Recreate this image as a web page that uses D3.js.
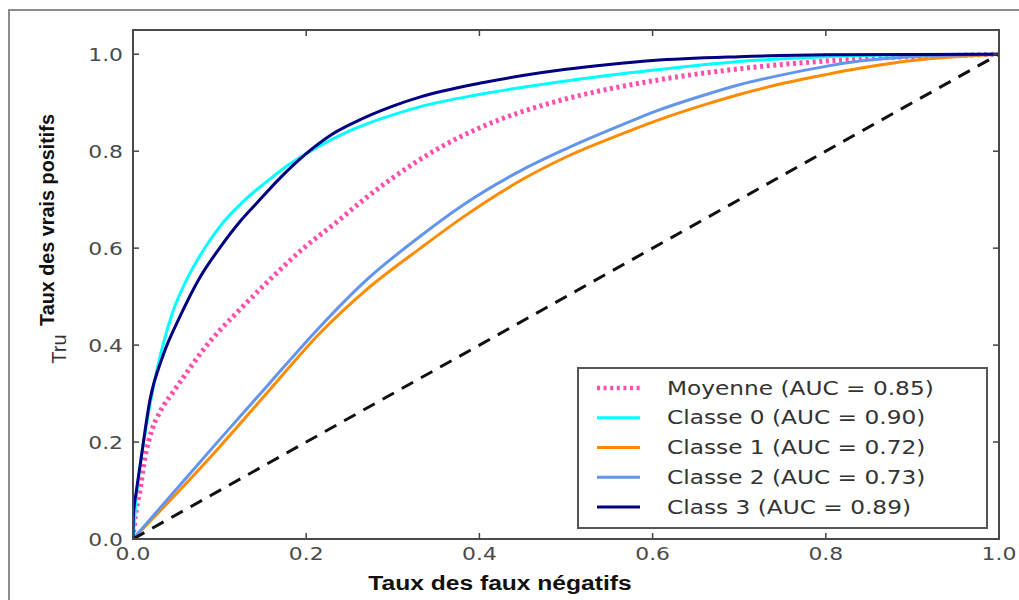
<!DOCTYPE html>
<html>
<head>
<meta charset="utf-8">
<script src="https://cdn.jsdelivr.net/npm/d3@7"></script>
<style>
  body { margin: 0; background: #fff; }
  svg { display: block; }
</style>
</head>
<body>
<svg id="roc-svg"></svg>
<script>
// ROC curves (fpr -> tpr)
const meanFpr = [0, 0.003, 0.008, 0.014, 0.022, 0.032, 0.045, 0.06, 0.081, 0.1, 0.12, 0.158, 0.197, 0.236, 0.27, 0.3, 0.35, 0.4, 0.45, 0.5, 0.6, 0.7, 0.8, 0.9, 1.0];
const meanTpr = [0, 0.05, 0.10, 0.17, 0.225, 0.265, 0.30, 0.338, 0.39, 0.43, 0.467, 0.535, 0.60, 0.655, 0.705, 0.745, 0.803, 0.848, 0.882, 0.908, 0.945, 0.97, 0.986, 0.995, 1.0];

const class0Fpr = [0, 0.004, 0.0139, 0.0235, 0.035, 0.0466, 0.062, 0.081, 0.1, 0.129, 0.16, 0.178, 0.2, 0.254, 0.3, 0.332, 0.4, 0.5, 0.6, 0.7, 0.8, 0.9, 1.0];
const class0Tpr = [0, 0.09, 0.218, 0.314, 0.403, 0.472, 0.535, 0.595, 0.644, 0.699, 0.745, 0.77, 0.795, 0.845, 0.875, 0.892, 0.917, 0.945, 0.967, 0.985, 0.995, 0.999, 1.0];

const class1Fpr = [0, 0.043, 0.1, 0.158, 0.216, 0.27, 0.332, 0.382, 0.45, 0.5, 0.575, 0.6, 0.662, 0.7, 0.751, 0.8, 0.839, 0.9, 1.0];
const class1Tpr = [0, 0.08, 0.19, 0.308, 0.425, 0.515, 0.60, 0.665, 0.742, 0.788, 0.843, 0.86, 0.897, 0.917, 0.94, 0.958, 0.971, 0.987, 1.0];

const class2Fpr = [0, 0.043, 0.1, 0.158, 0.216, 0.27, 0.332, 0.382, 0.45, 0.5, 0.575, 0.6, 0.662, 0.7, 0.751, 0.8, 0.839, 0.9, 1.0];
const class2Tpr = [0, 0.088, 0.205, 0.322, 0.438, 0.535, 0.625, 0.69, 0.762, 0.805, 0.862, 0.88, 0.917, 0.937, 0.958, 0.975, 0.986, 0.995, 1.0];

const class3Fpr = [0, 0.0004, 0.004, 0.008, 0.0196, 0.035, 0.054, 0.0774, 0.1, 0.1236, 0.143, 0.17, 0.2, 0.23, 0.254, 0.3, 0.332, 0.4, 0.45, 0.5, 0.55, 0.6, 0.7, 0.8, 1.0];
const class3Tpr = [0, 0.046, 0.10, 0.149, 0.287, 0.38, 0.458, 0.54, 0.60, 0.655, 0.693, 0.745, 0.795, 0.835, 0.858, 0.893, 0.912, 0.94, 0.956, 0.969, 0.979, 0.987, 0.995, 0.999, 1.0];

const chanceLine = [0, 1];

const seriesNames = ['Moyenne', 'Classe 0', 'Classe 1', 'Classe 2', 'Class 3'];
const seriesAuc = ['0.85', '0.90', '0.72', '0.73', '0.89'];

const xTicks = [0, 0.2, 0.4, 0.6, 0.8, 1.0];
const yTicks = [0, 0.2, 0.4, 0.6, 0.8, 1.0];

const xLabel = 'Taux des faux négatifs';
const yLabel = 'Taux des vrais positifs';
const yLabelExtra = 'Tru';

// ---------------- layout ----------------
const svgWidth = 1019, svgHeight = 600;
const plot = {left: 133, right: 999, top: 30, bottom: 539};
const stretch = 1.25; // the picture is wider than its fonts

const svg = d3.select('#roc-svg')
  .attr('width', svgWidth)
  .attr('height', svgHeight);

// outer frame of the figure
svg.append('path')
  .attr('d', `M9,${svgHeight + 5} L9,10 L${svgWidth + 5},10`)
  .attr('fill', 'none')
  .attr('stroke', '#8c8c8c')
  .attr('stroke-width', 2);

const xScale = d3.scaleLinear().domain([0, 1]).range([plot.left, plot.right]);
const yScale = d3.scaleLinear().domain([0, 1.05]).range([plot.bottom, plot.top]);

const series = [
  {fpr: meanFpr, tpr: meanTpr, color: '#ff4fae', width: 5, dash: '3,3.6'},
  {fpr: class0Fpr, tpr: class0Tpr, color: '#00ffff', width: 3, dash: null},
  {fpr: class1Fpr, tpr: class1Tpr, color: '#ff8c00', width: 3, dash: null},
  {fpr: class2Fpr, tpr: class2Tpr, color: '#6495ed', width: 3, dash: null},
  {fpr: class3Fpr, tpr: class3Tpr, color: '#000080', width: 3, dash: null}
];

const line = d3.line()
  .x(d => xScale(d[0]))
  .y(d => yScale(d[1]))
  .curve(d3.curveMonotoneX);

const chart = svg.append('g');

chart.append('defs').append('clipPath').attr('id', 'plot-clip')
  .append('rect')
  .attr('x', plot.left).attr('y', plot.top)
  .attr('width', plot.right - plot.left).attr('height', plot.bottom - plot.top);

const lines = chart.append('g').attr('clip-path', 'url(#plot-clip)');

series.forEach(s => {
  lines.append('path')
    .datum(s.fpr.map((f, i) => [f, s.tpr[i]]))
    .attr('d', line)
    .attr('fill', 'none')
    .attr('stroke', s.color)
    .attr('stroke-width', s.width)
    .attr('stroke-dasharray', s.dash)
    .attr('stroke-linejoin', 'round');
});

// chance diagonal
lines.append('path')
  .datum(chanceLine.map(v => [v, v]))
  .attr('d', d3.line().x(d => xScale(d[0])).y(d => yScale(d[1])))
  .attr('fill', 'none')
  .attr('stroke', '#111')
  .attr('stroke-width', 3)
  .attr('stroke-dasharray', '13,9');

/*********** axes: inward ticks on all four sides ***********/
const tickLen = 6;
const tickColor = '#444';
const axes = svg.append('g')
  .attr('stroke', tickColor)
  .attr('stroke-width', 1.5);

xTicks.forEach(t => {
  axes.append('line')
    .attr('x1', xScale(t)).attr('x2', xScale(t))
    .attr('y1', plot.bottom).attr('y2', plot.bottom - tickLen);
  axes.append('line')
    .attr('x1', xScale(t)).attr('x2', xScale(t))
    .attr('y1', plot.top).attr('y2', plot.top + tickLen);
});
yTicks.forEach(t => {
  axes.append('line')
    .attr('x1', plot.left).attr('x2', plot.left + tickLen)
    .attr('y1', yScale(t)).attr('y2', yScale(t));
  axes.append('line')
    .attr('x1', plot.right).attr('x2', plot.right - tickLen)
    .attr('y1', yScale(t)).attr('y2', yScale(t));
});

svg.append('rect')
  .attr('x', plot.left).attr('y', plot.top)
  .attr('width', plot.right - plot.left).attr('height', plot.bottom - plot.top)
  .attr('fill', 'none')
  .attr('stroke', '#4a4a4a')
  .attr('stroke-width', 2);

// tick labels
const fmt = d3.format('.1f');
const tickFont = "'DejaVu Sans', sans-serif";

xTicks.forEach(t => {
  svg.append('text')
    .attr('transform', `translate(${xScale(t)},${plot.bottom + 21}) scale(${stretch},1)`)
    .attr('text-anchor', 'middle')
    .style('font-family', tickFont)
    .style('font-size', '17.5px')
    .style('fill', '#4a4a4a')
    .text(fmt(t));
});
yTicks.forEach(t => {
  svg.append('text')
    .attr('transform', `translate(${plot.left - 10},${yScale(t) + 6.5}) scale(${stretch},1)`)
    .attr('text-anchor', 'end')
    .style('font-family', tickFont)
    .style('font-size', '17.5px')
    .style('fill', '#4a4a4a')
    .text(fmt(t));
});

/*********** axis titles ***********/
svg.append('text')
  .attr('transform', `translate(${(plot.left + plot.right) / 2 - 66},590) scale(1.23,1)`)
  .attr('text-anchor', 'middle')
  .style('font-family', "'Liberation Sans', Arial, sans-serif")
  .style('font-weight', 'bold')
  .style('font-size', '20px')
  .style('fill', '#111')
  .text(xLabel);

svg.append('text')
  .attr('transform', 'translate(54,220) rotate(-90)')
  .attr('text-anchor', 'middle')
  .style('font-family', "'Liberation Sans', Arial, sans-serif")
  .style('font-weight', 'bold')
  .style('font-size', '19.8px')
  .style('fill', '#111')
  .text(yLabel);

svg.append('text')
  .attr('transform', 'translate(66,349) rotate(-90)')
  .attr('text-anchor', 'middle')
  .style('font-family', "'Liberation Sans', Arial, sans-serif")
  .style('font-size', '20px')
  .style('fill', '#333')
  .text(yLabelExtra);

/*********** legend ***********/
const legend = svg.append('g');
legend.append('rect')
  .attr('x', 578).attr('y', 368)
  .attr('width', 409).attr('height', 160)
  .attr('fill', '#fff')
  .attr('stroke', '#555')
  .attr('stroke-width', 2);

const rowY = d3.scalePoint().domain(seriesNames).range([388, 507]);

seriesNames.forEach((name, i) => {
  const s = series[i];
  const y = rowY(name);
  legend.append('line')
    .attr('x1', 597).attr('x2', 640)
    .attr('y1', y).attr('y2', y)
    .attr('stroke', s.color)
    .attr('stroke-width', s.dash ? 4.5 : 3)
    .attr('stroke-dasharray', s.dash);
  legend.append('text')
    .attr('transform', `translate(667,${y + 6.5}) scale(${stretch},1)`)
    .style('font-family', tickFont)
    .style('font-size', '18.6px')
    .style('fill', '#333')
    .text(`${name} (AUC = ${seriesAuc[i]})`);
});
</script>
</body>
</html>
